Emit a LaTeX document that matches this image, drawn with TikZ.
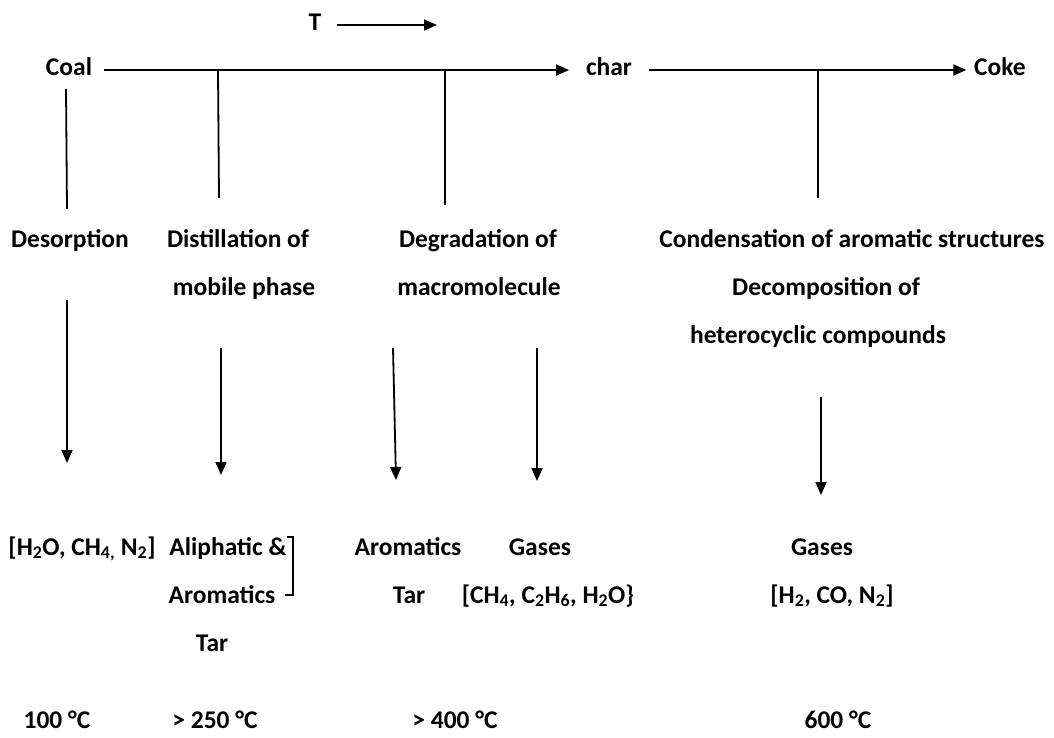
\documentclass[tikz,border=0pt]{standalone}
\usepackage{fontspec}
\setmainfont{Carlito}
\usetikzlibrary{arrows.meta}

\tikzset{
  txt/.style={inner sep=0pt, font=\fontsize{25.5}{30}\selectfont\bfseries, text height=17pt, text depth=5pt},
  arr/.style={-{Triangle[length=13pt,width=11pt]}},
}

\begin{document}
\begin{tikzpicture}[x=1pt, y=-1pt, line width=1.8pt]
  \useasboundingbox (0,0) rectangle (1054,738);

  % Temperature direction
  \node[txt, inner xsep=15pt] (temp) at (315,25) {T};
  \coordinate (tend) at (437,25);
  \draw[arr] (temp) -- (tend);

  % Main line
  \node[txt, inner xsep=11pt] (coal) at (69,70) {Coal};
  \node[txt, inner xsep=16pt] (char) at (609,70) {char};
  \node[txt, inner xsep=7pt] (coke) at (1000,70) {Coke};
  \draw[arr] (coal) -- (char);
  \draw[arr] (char) -- (coke);

  % Branches
  \coordinate (b1a) at (66,89);  \coordinate (b1b) at (67,209);
  \coordinate (b2a) at (218,70); \coordinate (b2b) at (219,198);
  \coordinate (b3a) at (445,70); \coordinate (b3b) at (445,205);
  \coordinate (b4a) at (818,70); \coordinate (b4b) at (818,198);
  \draw (b1a) -- (b1b);
  \draw (b2a) -- (b2b);
  \draw (b3a) -- (b3b);
  \draw (b4a) -- (b4b);

  % Stages
  \node[txt] (desorp) at (70,241) {Desorption};
  \node[txt] (distil) at (238,241) {Distillation of};
  \node[txt] (distil2) at (244,289) {mobile phase};
  \node[txt] (degrad) at (478,241) {Degradation of};
  \node[txt] (degrad2) at (479,289) {macromolecule};
  \node[txt] (conden) at (852,241) {Condensation of aromatic structures};
  \node[txt] (decomp) at (826,289) {Decomposition of};
  \node[txt] (decomp2) at (818,337) {heterocyclic compounds};

  % Down arrows
  \coordinate (a1a) at (67,300);  \coordinate (a1b) at (67,463);
  \coordinate (a2a) at (221,348); \coordinate (a2b) at (221,475);
  \coordinate (a3a) at (393,348); \coordinate (a3b) at (396,480);
  \coordinate (a4a) at (537,348); \coordinate (a4b) at (537,481);
  \coordinate (a5a) at (821,397); \coordinate (a5b) at (821,495);
  \draw[arr] (a1a) -- (a1b);
  \draw[arr] (a2a) -- (a2b);
  \draw[arr] (a3a) -- (a3b);
  \draw[arr] (a4a) -- (a4b);
  \draw[arr] (a5a) -- (a5b);

  % Products
  \node[txt] (prod1) at (82,549) {[H\textsubscript{2}O, CH\textsubscript{4,} N\textsubscript{2}]};
  \node[txt] (prod2) at (228,549) {Aliphatic \&};
  \node[txt] (prod2b) at (222,597) {Aromatics};
  \node[txt] (prod2c) at (212,645) {Tar};
  \node[txt] (prod3) at (408,549) {Aromatics};
  \node[txt] (prod3b) at (409,597) {Tar};
  \node[txt] (prod4) at (540,549) {Gases};
  \node[txt] (prod4b) at (548,597) {[CH\textsubscript{4}, C\textsubscript{2}H\textsubscript{6}, H\textsubscript{2}O\}};
  \node[txt] (prod5) at (822,549) {Gases};
  \node[txt] (prod5b) at (832,597) {[H\textsubscript{2}, CO, N\textsubscript{2}]};

  % Bracket
  \draw (287,537) -- (293,537) -- (293,595) -- (285,595);

  % Temperatures
  \node[txt] (deg1) at (57,722) {100 °C};
  \node[txt] (deg2) at (215,722) {> 250 °C};
  \node[txt] (deg3) at (455,722) {> 400 °C};
  \node[txt] (deg4) at (838,722) {600 °C};
\end{tikzpicture}
\end{document}
